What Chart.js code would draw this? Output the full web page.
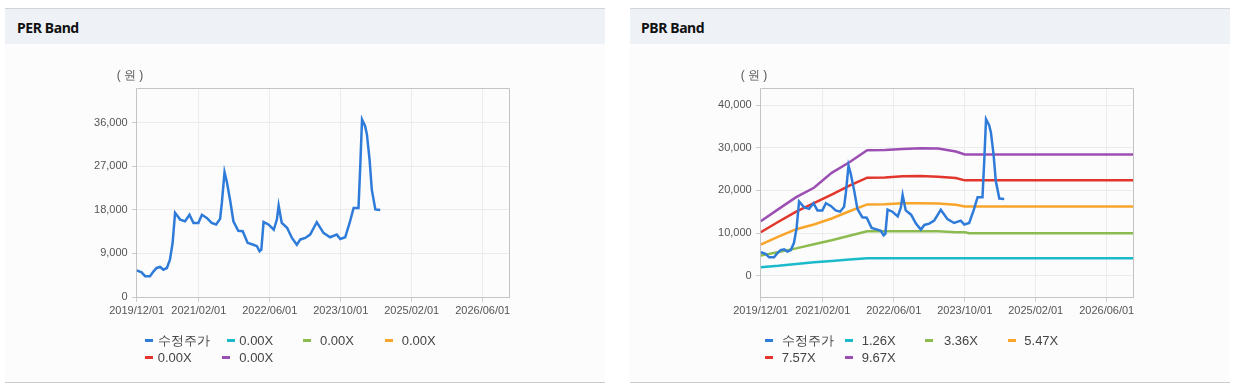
<!DOCTYPE html>
<html><head><meta charset="utf-8">
<script src="https://cdn.jsdelivr.net/npm/chart.js@4.4.1/dist/chart.umd.min.js"></script>
<style>
html,body{margin:0;padding:0;background:#fff;width:1234px;height:392px;overflow:hidden;font-family:'Liberation Sans',Arial,sans-serif;}
.panel{position:absolute;top:8px;width:600px;height:373px;border-top:1px solid #d4d4d4;border-bottom:1px solid #cccccc;background:#fcfcfc;}
.head{position:absolute;left:0;top:0;width:100%;height:35px;background:#eef2f7;}
.head span{position:absolute;top:9px;font:bold 14px 'Noto Sans',sans-serif;letter-spacing:-0.4px;color:#111;line-height:19px;}
.cv{position:absolute;left:0;top:35px;width:600px;height:338px;}
.lg{position:absolute;left:0;top:0;}
.lg .m{position:absolute;width:8px;height:3px;}
.lg .t{position:absolute;font:13px 'Liberation Sans',Arial,sans-serif;color:#444;line-height:15px;white-space:nowrap;}
</style></head>
<body>
<div class="panel" style="left:5px"><div class="head"><span style="left:12px">PER Band</span></div><div class="cv"><canvas id="per"></canvas></div></div>
<div class="panel" style="left:630px"><div class="head"><span style="left:11px">PBR Band</span></div><div class="cv"><canvas id="pbr"></canvas></div></div>
<div id="lgPer" class="lg"></div>
<div id="lgPbr" class="lg"></div>
<script>
// ---- data ----
const tickMonths = [0, 14, 30, 46, 62, 78];           // months since 2019/12
const tickLabels = ['2019/12/01','2021/02/01','2022/06/01','2023/10/01','2025/02/01','2026/06/01'];

const priceMonths = [0,1.1,1.9,3,3.8,4.5,5.3,6,6.8,7.5,8.1,8.65,9.8,10.9,11.9,12.8,13.9,14.7,15.8,16.9,17.9,18.8,19.2,19.8,20.3,21.1,21.8,22.9,23.9,25,26.3,27.1,27.7,28.1,28.6,29.7,30.9,31.6,32,32.7,33.9,35,36.1,36.9,38,39.1,40.6,41.4,42.1,43.6,45.1,45.9,47,48,48.9,50,50.4,50.8,51.5,51.9,52.5,53,53.8,54.9];
const priceValues = [5500,5100,4300,4300,5300,6000,6200,5650,6000,7700,11200,17400,16000,15650,17000,15300,15300,17000,16350,15300,15000,16150,19450,25800,23900,19800,15650,13700,13600,11200,10800,10500,9450,9800,15500,15000,13900,16000,18900,15300,14300,12200,10800,11900,12200,12900,15450,14300,13250,12350,12900,12000,12350,15300,18400,18400,27000,36700,35300,33600,28400,22200,18100,18000];

const bandMonths = [0,4,8,12,16,20,24,28,32,36,40,44,46,47,84];
const band126 = [1960,2300,2750,3150,3450,3800,4080,4080,4080,4080,4080,4080,4080,4080,4080];
const band336 = [4700,5550,6400,7350,8300,9350,10430,10430,10430,10430,10430,10190,10190,9960,9960];
const band547 = [7290,9150,10900,12000,13400,15100,16700,16750,17000,17000,16900,16620,16230,16230,16230];
const band757 = [10190,12650,15000,17000,19000,21100,22970,23000,23300,23360,23200,22900,22350,22350,22350];
const band967 = [12780,15600,18400,20600,24100,26600,29400,29450,29700,29900,29800,29100,28400,28400,28400];

const perLabels = ['수정주가','0.00X','0.00X','0.00X','0.00X','0.00X'];
const pbrLabels = ['수정주가','1.26X','3.36X','5.47X','7.57X','9.67X'];
const perYTicks = [0, 9000, 18000, 27000, 36000];
const pbrYTicks = [0, 10000, 20000, 30000, 40000];

// ---- styles ----
const colors = ['#2f7bd9','#1bbacb','#8cbc4f','#f9a42b','#e2352b','#9c4fb2'];
const pts = (xs, ys) => xs.map((x, i) => ({x, y: ys[i]}));

Chart.defaults.font.family = "'Liberation Sans', Arial, sans-serif";
Chart.defaults.font.size = 11;
Chart.defaults.color = '#555';

const framePlugin = {
  id: 'frame',
  afterDraw(chart) {
    const {ctx, chartArea: a} = chart;
    ctx.save();
    ctx.strokeStyle = '#c4c4c4';
    ctx.lineWidth = 1;
    ctx.beginPath();
    ctx.moveTo(Math.round(a.left) + 0.5, Math.round(a.top) + 0.5);
    ctx.lineTo(Math.round(a.right) + 0.5, Math.round(a.top) + 0.5);
    ctx.lineTo(Math.round(a.right) + 0.5, Math.round(a.bottom) + 0.5);
    ctx.stroke();
    ctx.fillStyle = '#555';
    ctx.font = "12px 'Liberation Sans', Arial, sans-serif";
    ctx.textBaseline = 'middle';
    ctx.fillText('( 원 )', a.left - 20, 32);
    ctx.restore();
  }
};

function makeChart(id, labels, datasets, yMin, yMax, yTicks, yWidth, padRight) {
  return new Chart(document.getElementById(id), {
    type: 'line',
    data: {
      datasets: datasets.map((d, i) => ({
        label: labels[i], data: d, borderColor: colors[i], backgroundColor: colors[i],
        borderWidth: 2.5, pointRadius: 0, tension: 0, fill: false
      }))
    },
    options: {
      responsive: false, animation: false, events: [],
      layout: {padding: {left: 0, top: 44, right: padRight, bottom: 0}},
      plugins: {legend: {display: false}, tooltip: {enabled: false}},
      scales: {
        x: {
          type: 'linear', min: 0, max: 84,
          afterBuildTicks: s => { s.ticks = tickMonths.map(v => ({value: v})); },
          afterFit: s => { s.height = 85; },
          ticks: {autoSkip: false, maxRotation: 0, padding: 2, color: '#555',
                  callback: (v, i) => tickLabels[i]},
          grid: {color: '#ececec', tickLength: 5, tickColor: '#cfcfcf'},
          border: {color: '#c4c4c4'}
        },
        y: {
          min: yMin, max: yMax,
          afterBuildTicks: s => { s.ticks = yTicks.map(v => ({value: v})); },
          afterFit: s => { s.width = yWidth; },
          ticks: {padding: 4, color: '#555',
                  callback: v => v.toLocaleString('en-US')},
          grid: {color: '#ececec', tickLength: 5, tickColor: '#cfcfcf'},
          border: {color: '#c4c4c4'}
        }
      }
    },
    plugins: [framePlugin]
  });
}

function setup(id) {
  const c = document.getElementById(id);
  c.width = 600; c.height = 338;
  c.style.width = '600px'; c.style.height = '338px';
}
setup('per'); setup('pbr');

const perChart = makeChart('per', perLabels,
  [pts(priceMonths, priceValues), [], [], [], [], []],
  0, 43200, perYTicks, 131.7, 95.7);

const pbrChart = makeChart('pbr', pbrLabels,
  [pts(priceMonths, priceValues), pts(bandMonths, band126), pts(bandMonths, band336),
   pts(bandMonths, band547), pts(bandMonths, band757), pts(bandMonths, band967)],
  -5000, 44000, pbrYTicks, 130.7, 96.7);

// ---- HTML legends built from the chart datasets ----
function buildLegend(elId, chart, markerX, textX, rowY) {
  const el = document.getElementById(elId);
  chart.data.datasets.forEach((ds, i) => {
    const r = i < 4 ? 0 : 1;
    const m = document.createElement('span');
    m.className = 'm';
    m.style.left = markerX[i] + 'px';
    m.style.top = (rowY[r] - 1.5) + 'px';
    m.style.background = ds.borderColor;
    el.appendChild(m);
    const t = document.createElement('span');
    t.className = 't';
    t.textContent = ds.label;
    t.style.left = textX[i] + 'px';
    t.style.top = (rowY[r] - 7.5) + 'px';
    el.appendChild(t);
  });
}
buildLegend('lgPer', perChart, [145,226.7,303.3,385,145,221.7], [157.7,239.3,320,401.7,157.7,239.3], [340,357.7]);
buildLegend('lgPbr', pbrChart, [765,845,925,1008.3,765,845], [781.7,861.7,944,1024.3,781.7,861.7], [340,357.7]);
</script>
</body></html>
